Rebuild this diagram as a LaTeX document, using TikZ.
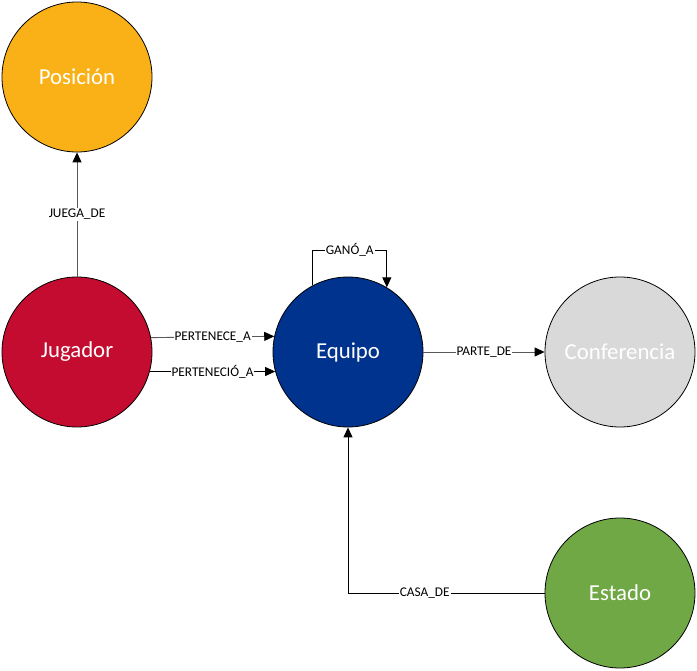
\documentclass[tikz,border=0pt]{standalone}
\usepackage{fontspec}
\setmainfont{Carlito}
\usetikzlibrary{arrows.meta}
\definecolor{cpos}{RGB}{250,177,24}
\definecolor{cjug}{RGB}{196,12,48}
\definecolor{cequ}{RGB}{0,51,141}
\definecolor{ccon}{RGB}{217,217,217}
\definecolor{cest}{RGB}{112,168,69}
\tikzset{
  ent/.style={circle, draw=black, line width=0.8pt, minimum size=150pt, inner sep=0pt,
    text=white, font=\fontsize{22.8}{27}\selectfont},
  rel/.style={line width=0.9pt, -{Triangle[length=10pt,width=9pt]}},
  grel/.style={rel, draw=black!65, -{Triangle[length=10pt,width=9pt,color=black]}},
  lab/.style={fill=white, inner sep=1pt, text=black, font=\fontsize{13.3}{15}\selectfont}
}
\begin{document}
\begin{tikzpicture}[x=1pt,y=-1pt]
\useasboundingbox (0,0) rectangle (697,671);
\node[ent, fill=cpos] (pos) at (77,77) {\raisebox{-1.5pt}{Posición}};
\node[ent, fill=cjug] (jug) at (77,352) {\raisebox{-1.5pt}{Jugador}};
\node[ent, fill=cequ] (equ) at (348,352) {\raisebox{-1.5pt}{Equipo}};
\node[ent, fill=ccon] (con) at (620,352) {\raisebox{-1.5pt}{Conferencia}};
\node[ent, fill=cest] (est) at (620,593) {\raisebox{-1.5pt}{Estado}};
\coordinate (loopy) at (348,250);
\draw[grel] (jug.north) -- node[lab] {JUEGA\_DE} (pos.south);
\draw[grel] (jug.11.54) -- node[lab] {PERTENECE\_A} (equ.168.46);
\draw[rel] (jug.-15.47) -- node[lab] {PERTENECIÓ\_A} (equ.195.47);
\draw[rel] (equ.118.7) -- (equ.118.7 |- loopy) -- node[lab] {GANÓ\_A} (equ.59.5 |- loopy) -- (equ.59.5);
\draw[grel] (equ.east) -- node[lab] {PARTE\_DE} (con.west);
\draw[rel] (est.west) -| node[lab, pos=0.305] {CASA\_DE} (equ.south);
\end{tikzpicture}
\end{document}
